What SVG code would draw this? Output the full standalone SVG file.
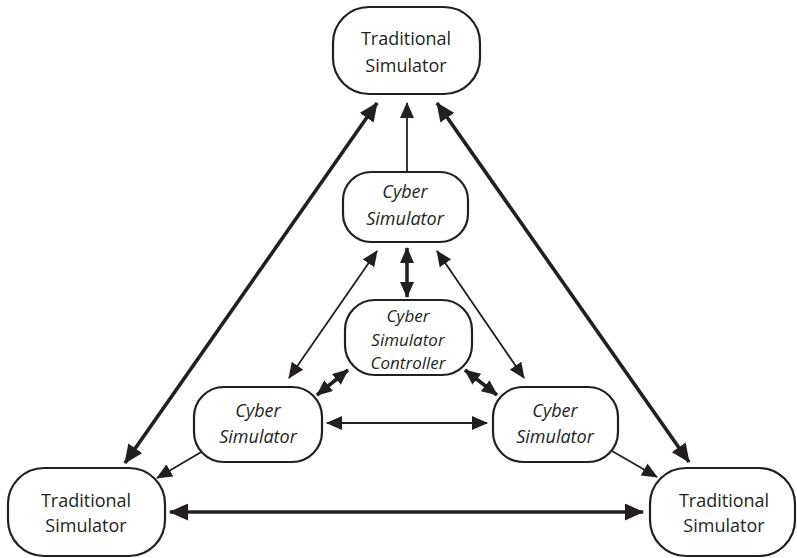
<svg xmlns="http://www.w3.org/2000/svg" width="797" height="558" viewBox="0 0 797 558">
  <style>
    .box { fill: #fff; stroke: #231f20; stroke-width: 2.2; }
    .lbl { font-family: "Open Sans", "Noto Sans", sans-serif; font-size: 18px; fill: #231f20; text-anchor: middle; }
    .it { font-style: italic; }
    .sm { font-size: 17px; }
    .thin { stroke: #231f20; stroke-width: 1.8; fill: none; }
    .thick { stroke: #231f20; stroke-width: 3.6; fill: none; }
  </style>
  <defs>
    <marker id="hs" markerUnits="userSpaceOnUse" markerWidth="16" markerHeight="14" viewBox="0 0 16 14" refX="15" refY="7" orient="auto-start-reverse">
      <path d="M0,0 L16,7 L0,14 Z" fill="#231f20"/>
    </marker>
    <marker id="hl" markerUnits="userSpaceOnUse" markerWidth="19" markerHeight="17" viewBox="0 0 19 17" refX="18" refY="8.5" orient="auto-start-reverse">
      <path d="M0,0 L19,8.5 L0,17 Z" fill="#231f20"/>
    </marker>
  </defs>

  <g id="connectors">
    <!-- cyber top to traditional top -->
    <line class="thin" x1="407" y1="172" x2="407" y2="103" marker-end="url(#hs)"/>
    <!-- cyber top <-> controller -->
    <line class="thick" x1="407" y1="248" x2="407" y2="297" marker-start="url(#hs)" marker-end="url(#hs)"/>
    <!-- cyber top <-> lower cybers -->
    <line class="thin" x1="377" y1="251" x2="289" y2="378" marker-start="url(#hs)" marker-end="url(#hs)"/>
    <line class="thin" x1="437" y1="251" x2="524" y2="378" marker-start="url(#hs)" marker-end="url(#hs)"/>
    <!-- controller <-> lower cybers -->
    <line class="thick" x1="348" y1="370" x2="317" y2="395" marker-start="url(#hs)" marker-end="url(#hs)"/>
    <line class="thick" x1="465" y1="370" x2="497" y2="395" marker-start="url(#hs)" marker-end="url(#hs)"/>
    <!-- lower cyber <-> lower cyber -->
    <line class="thin" x1="327" y1="423" x2="487" y2="423" marker-start="url(#hs)" marker-end="url(#hs)"/>
    <!-- lower cybers to traditional -->
    <line class="thin" x1="203" y1="451" x2="157" y2="478" marker-end="url(#hs)"/>
    <line class="thin" x1="612" y1="451" x2="657" y2="477" marker-end="url(#hs)"/>
    <!-- traditional <-> traditional -->
    <line class="thick" x1="377" y1="103" x2="125" y2="463" marker-start="url(#hl)" marker-end="url(#hl)"/>
    <line class="thick" x1="437" y1="103" x2="689" y2="462" marker-start="url(#hl)" marker-end="url(#hl)"/>
    <line class="thick" x1="170" y1="512" x2="643" y2="512" marker-start="url(#hl)" marker-end="url(#hl)"/>
  </g>

  <g id="trad-top">
    <rect class="box" x="333" y="7" width="147" height="87" rx="36"/>
    <text class="lbl" x="406" y="45">Traditional</text>
    <text class="lbl" x="406" y="72">Simulator</text>
  </g>
  <g id="cyber-top">
    <rect class="box" x="343" y="172" width="125" height="70" rx="28"/>
    <text class="lbl it" x="405" y="198">Cyber</text>
    <text class="lbl it" x="405" y="225">Simulator</text>
  </g>
  <g id="controller">
    <rect class="box" x="345" y="300" width="127" height="75" rx="30"/>
    <text class="lbl it sm" x="408" y="322">Cyber</text>
    <text class="lbl it sm" x="408" y="345.5">Simulator</text>
    <text class="lbl it sm" x="408" y="369">Controller</text>
  </g>
  <g id="cyber-left">
    <rect class="box" x="194" y="387" width="128" height="75" rx="30"/>
    <text class="lbl it" x="258" y="417">Cyber</text>
    <text class="lbl it" x="258" y="443">Simulator</text>
  </g>
  <g id="cyber-right">
    <rect class="box" x="493" y="387" width="125" height="75" rx="30"/>
    <text class="lbl it" x="555" y="417">Cyber</text>
    <text class="lbl it" x="555" y="443">Simulator</text>
  </g>
  <g id="trad-left">
    <rect class="box" x="8" y="468" width="157" height="88" rx="36"/>
    <text class="lbl" x="86" y="507">Traditional</text>
    <text class="lbl" x="86" y="532">Simulator</text>
  </g>
  <g id="trad-right">
    <rect class="box" x="650" y="468" width="145" height="88" rx="36"/>
    <text class="lbl" x="724" y="507">Traditional</text>
    <text class="lbl" x="724" y="532">Simulator</text>
  </g>
</svg>
